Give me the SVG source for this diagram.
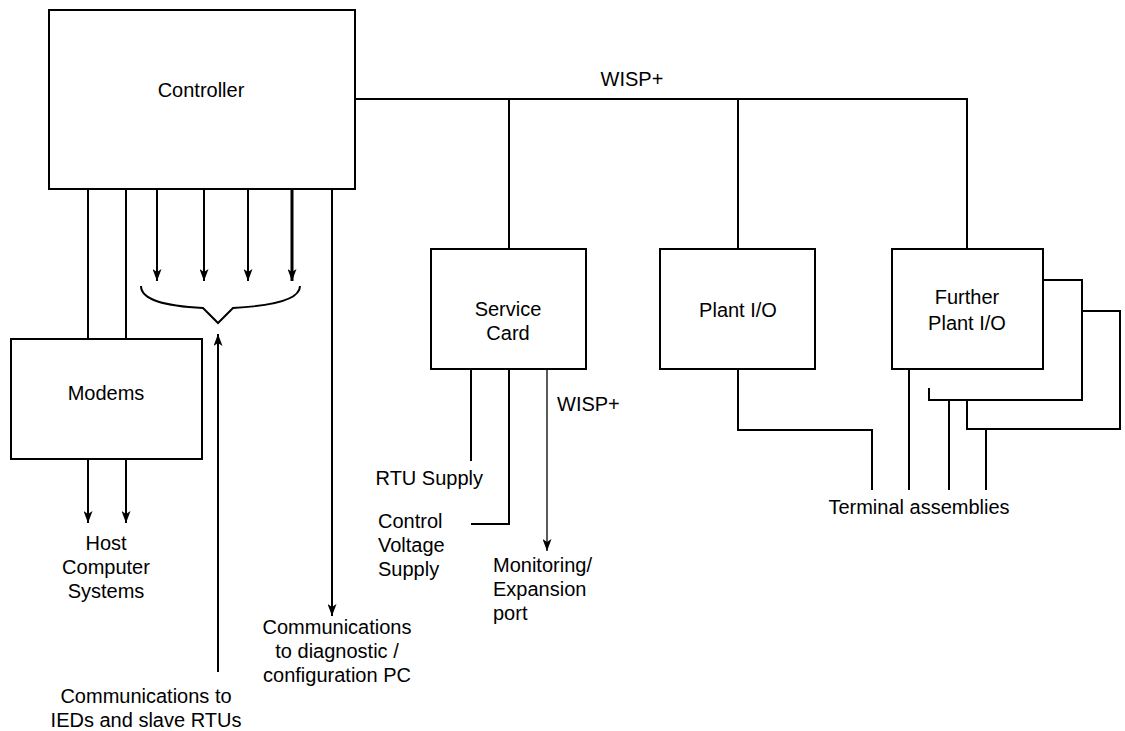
<svg xmlns="http://www.w3.org/2000/svg" width="1125" height="731" viewBox="0 0 1125 731">
<style>
.box{fill:#fff;stroke:#000;stroke-width:2}
.ln{fill:none;stroke:#000;stroke-width:2}
.thin{fill:none;stroke:#000;stroke-width:1.3}
.thick{fill:none;stroke:#000;stroke-width:3}
text{font-family:"Liberation Sans",Arial,sans-serif;font-size:20px;fill:#000}
.c{text-anchor:middle}
.e{text-anchor:end}
</style>
<defs>
<marker id="ah" viewBox="0 0 12 9" refX="12" refY="4.5" markerWidth="12" markerHeight="9" markerUnits="userSpaceOnUse" orient="auto">
<path d="M0,0 L12,4.5 L0,9 L3,4.5 z" fill="#000"/>
</marker>
</defs>
<rect width="1125" height="731" fill="#fff"/>
<g id="connectors">
<path class="ln" d="M355,99 H967 V249 M509,99 V249 M738,99 V249"/>
<path class="ln" d="M88,189 V339 M126,189 V339"/>
<path class="ln" d="M157,189 V281" marker-end="url(#ah)"/>
<path class="ln" d="M204,189 V281" marker-end="url(#ah)"/>
<path class="ln" d="M248,189 V281" marker-end="url(#ah)"/>
<path class="thick" d="M292,189 V281" marker-end="url(#ah)"/>
<path class="ln" d="M332,189 V616" marker-end="url(#ah)"/>
<path class="ln" d="M141,286 C141,300 165,306 203,308 L218,323 L233,308 C271,306 300,300 300,286"/>
<path class="ln" d="M218,672 V334" marker-end="url(#ah)"/>
<path class="ln" d="M88,459 V523" marker-end="url(#ah)"/>
<path class="ln" d="M126,459 V523" marker-end="url(#ah)"/>
<path class="ln" d="M471,369 V461"/>
<path class="ln" d="M509,369 V524 H471"/>
<path class="thin" d="M547,369 V551" marker-end="url(#ah)"/>
<path class="ln" d="M738,369 V430 H872 V490"/>
<path class="ln" d="M909,369 V490 M949,400 V490 M986,429 V490"/>
</g>
<g id="controller"><rect class="box" x="49" y="10" width="306" height="179"/><text class="c" x="201" y="97">Controller</text></g>
<text id="wisp-top" class="c" x="632" y="86">WISP+</text>
<g id="modems"><rect class="box" x="11" y="339" width="191" height="120"/><text class="c" x="106" y="400">Modems</text></g>
<g id="host"><text class="c" x="106" y="550">Host</text><text class="c" x="106" y="574">Computer</text><text class="c" x="106" y="598">Systems</text></g>
<g id="diag"><text class="c" x="337" y="634">Communications</text><text class="c" x="337" y="658">to diagnostic /</text><text class="c" x="337" y="682">configuration PC</text></g>
<g id="ieds"><text class="c" x="146" y="703">Communications to</text><text class="c" x="146" y="727">IEDs and slave RTUs</text></g>
<g id="service-card"><rect class="box" x="431" y="249" width="155" height="120"/><text class="c" x="508" y="316">Service</text><text class="c" x="508" y="340">Card</text></g>
<text id="wisp-sc" x="557" y="411">WISP+</text>
<text id="rtu-supply" class="e" x="483" y="485">RTU Supply</text>
<g id="cvs"><text x="378" y="528">Control</text><text x="378" y="552">Voltage</text><text x="378" y="576">Supply</text></g>
<g id="monitor"><text x="493" y="572">Monitoring/</text><text x="493" y="596">Expansion</text><text x="493" y="620">port</text></g>
<g id="plant-io"><rect class="box" x="660" y="249" width="155" height="120"/><text class="c" x="738" y="317">Plant I/O</text></g>
<g id="further-plant-io">
<path class="ln" d="M1082,311 H1120 V429 H967 V400"/>
<path class="ln" d="M1043,280 H1082 V400 H929 V388"/>
<rect class="box" x="892" y="249" width="151" height="120"/>
<text class="c" x="967" y="304">Further</text><text class="c" x="967" y="330">Plant I/O</text>
</g>
<text id="terminal" class="c" x="919" y="514">Terminal assemblies</text>
</svg>
